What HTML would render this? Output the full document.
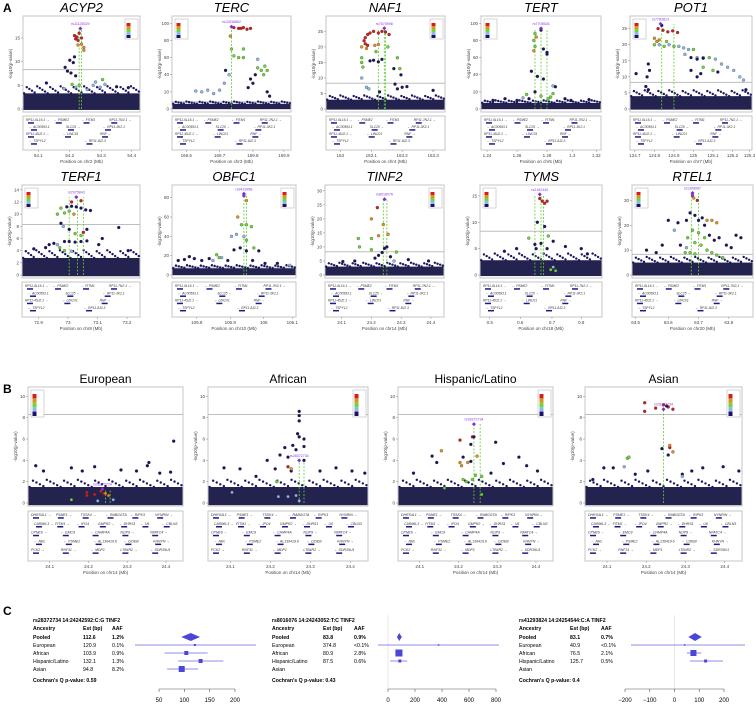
<!DOCTYPE html>
<html><head><meta charset="utf-8"><style>
html,body{margin:0;padding:0;background:#fff}
svg{display:block;font-family:"Liberation Sans",sans-serif}
</style></head><body>
<svg id="fig" width="756" height="706" viewBox="0 0 756 706" xmlns="http://www.w3.org/2000/svg">
<rect width="756" height="706" fill="#fff"/>
<text x="3" y="12" font-size="12" font-weight="bold">A</text>
<text x="3" y="393" font-size="12" font-weight="bold">B</text>
<text x="3" y="615" font-size="12" font-weight="bold">C</text>
</svg>
<script>
// ---------- locus data (xfrac, -log10 p, ld class 0..4) ----------
const acyp2Pts=[[0.44,15.5,4],[0.45,14.8,4],[0.46,15.2,4],[0.47,14.5,4],[0.48,16,4],[0.5,15,4],[0.47,13.5,3],[0.5,13.7,3],[0.52,13,3],[0.52,12.4,3],[0.44,11,0],[0.4,10.3,0],[0.43,9.8,0],[0.36,8.8,0],[0.38,8,0],[0.41,7.6,0],[0.45,7,0],[0.42,5.2,2],[0.48,5,2],[0.62,5.7,1],[0.6,5,1],[0.66,4.6,1],[0.68,6.2,2],[0.7,5.2,1],[0.35,4.3,1],[0.45,4.6,1],[0.2,5.5,0],[0.8,4.7,0],[0.9,4.5,0],[0.55,4.1,1]];
const tercPts=[[0.52,95,4],[0.56,94,4],[0.6,95,4],[0.63,93,4],[0.66,94,4],[0.58,94,4],[0.49,85,3],[0.5,70,2],[0.52,62,2],[0.56,60,2],[0.6,60,2],[0.6,70,2],[0.72,48,2],[0.75,45,2],[0.78,50,2],[0.8,45,2],[0.77,40,2],[0.72,58,1],[0.7,40,0],[0.66,35,0],[0.68,30,0],[0.64,25,0],[0.8,20,0],[0.82,15,0],[0.3,22,1],[0.25,20,1],[0.2,21,1],[0.35,18,1],[0.4,22,1],[0.44,30,1],[0.48,40,1],[0.45,45,0]];
const naf1Pts=[[0.32,22,4],[0.33,23,4],[0.35,24,4],[0.37,24.5,4],[0.4,25,4],[0.44,24.5,4],[0.47,25,4],[0.5,24.8,4],[0.53,24,4],[0.33,21,4],[0.35,20.5,4],[0.3,20,3],[0.34,19.5,3],[0.41,20.5,3],[0.44,20.8,3],[0.42,18.5,2],[0.52,20,2],[0.3,16.5,2],[0.3,15,2],[0.31,13.5,2],[0.6,16.5,2],[0.62,13,2],[0.37,15.5,0],[0.4,15.7,0],[0.44,15.2,0],[0.47,16,0],[0.63,11,0],[0.57,13,0],[0.3,10,1],[0.34,7,1],[0.36,6.5,1],[0.6,6.5,0],[0.64,7,0],[0.68,7.2,0],[0.58,8,0],[0.45,5.5,0],[0.9,6,0]];
const tertPts=[[0.45,88,2],[0.5,92,0],[0.46,84,3],[0.44,80,2],[0.45,73,2],[0.44,68,3],[0.52,70,0],[0.55,66,0],[0.55,64,0],[0.42,44,0],[0.47,38,0],[0.52,35,0],[0.6,27,1],[0.62,26,0],[0.38,17,2],[0.5,15,2],[0.6,18,2],[0.56,12,2],[0.58,14,2],[0.4,12,0],[0.3,10,0],[0.35,13,1],[0.2,12,0],[0.1,10,0],[0.7,12,0],[0.75,10,0],[0.9,11,0],[0.45,20,0]];
const pot1Pts=[[0.23,25,4],[0.27,24.5,4],[0.31,24,4],[0.35,24.3,4],[0.39,23.8,4],[0.26,26,0],[0.2,22,3],[0.22,21,3],[0.24,21.5,3],[0.2,20,2],[0.24,20,1],[0.28,19.5,2],[0.32,20,1],[0.36,19.5,2],[0.4,19.5,1],[0.44,19,1],[0.48,18.5,1],[0.52,18.5,2],[0.55,16,1],[0.6,16,1],[0.65,16,2],[0.7,15.5,1],[0.5,16,0],[0.55,15.5,0],[0.6,15.8,0],[0.75,14,1],[0.8,13,1],[0.85,12,1],[0.9,10,1],[0.93,9,1],[0.6,13,2],[0.68,12,2],[0.72,11.5,0],[0.5,12,0],[0.55,10,0],[0.15,14,0],[0.16,12,0],[0.14,10,0],[0.13,7,0],[0.15,6,0],[0.05,11,0],[0.95,6,0],[0.3,21,2],[0.45,17,1],[0.58,11,0]];
const terf1Pts=[[0.42,12,4],[0.5,12.2,4],[0.38,11.2,0],[0.42,11.3,0],[0.46,11.2,0],[0.5,11,0],[0.54,10.7,0],[0.58,10.6,0],[0.33,11,2],[0.36,10.2,2],[0.4,10.5,2],[0.44,10,3],[0.3,10,2],[0.33,8.5,0],[0.35,8,1],[0.4,7.5,0],[0.45,6.8,2],[0.5,6.5,2],[0.52,7,4],[0.55,7.5,0],[0.36,5.5,0],[0.4,5.5,0],[0.45,5.4,0],[0.5,5.5,0],[0.55,5.6,0],[0.3,5,1],[0.32,4.5,2],[0.36,4,2],[0.42,3.9,1],[0.27,5.2,0],[0.23,5,0],[0.65,5,0],[0.68,6,0],[0.82,7.8,0],[0.9,4,0],[0.1,4.3,0],[0.2,4.5,0]];
const obfc1Pts=[[0.58,82,5],[0.6,77,3],[0.53,60,3],[0.56,52,2],[0.6,52,2],[0.64,50,2],[0.58,40,1],[0.52,42,1],[0.48,40,1],[0.6,36,2],[0.66,28,2],[0.55,28,0],[0.6,25,0],[0.7,25,0],[0.5,26,0],[0.36,21,2],[0.38,18,2],[0.33,15,1],[0.4,18,1],[0.3,17,0],[0.24,15,0],[0.18,17,0],[0.14,19,0],[0.1,16,0],[0.05,15,0],[0.45,15,0],[0.65,15,0],[0.75,12,0],[0.85,12,0],[0.95,10,1]];
const tinf2Pts=[[0.44,24,4],[0.39,20,3],[0.49,18,3],[0.53,14.5,3],[0.45,14,3],[0.28,13,2],[0.39,13,2],[0.29,10,2],[0.39,9,2],[0.6,8.2,2],[0.5,9.5,0],[0.52,10,0],[0.45,7,0],[0.55,6.5,0],[0.42,6,0],[0.58,5,1],[0.25,5,0],[0.15,4.8,0],[0.7,5.5,0],[0.87,5,0],[0.48,8,0]];
const tymsPts=[[0.49,14.5,4],[0.51,14,4],[0.53,13.6,4],[0.55,14,4],[0.47,10,0],[0.53,9.2,0],[0.56,7.4,2],[0.4,7,2],[0.45,5.8,0],[0.46,5,0],[0.5,6,0],[0.55,5,0],[0.6,6.4,0],[0.7,5.4,0],[0.58,1,2],[0.6,1.5,1],[0.62,0.8,2],[0.3,5,0],[0.2,4.5,0],[0.83,5,0],[0.88,4,0]];
const rtel1Pts=[[0.5,32,5],[0.51,31,3],[0.54,30,4],[0.48,25,0],[0.52,24,0],[0.55,22,0],[0.58,23,0],[0.62,22,3],[0.66,22,3],[0.7,21,3],[0.6,20,0],[0.45,22,0],[0.38,21,0],[0.3,22,0],[0.35,18,1],[0.5,18,2],[0.55,17,2],[0.6,15,2],[0.46,15,2],[0.52,13,2],[0.57,12,2],[0.62,10,2],[0.66,9,2],[0.44,9,2],[0.48,9,2],[0.52,8.5,2],[0.7,8,2],[0.75,7,2],[0.64,16,0],[0.68,14,0],[0.72,15,0],[0.78,12,0],[0.82,11,0],[0.86,16,0],[0.9,15,0],[0.25,12,0],[0.2,9,0],[0.12,10,0],[0.4,12,0],[0.45,11,1]];
const eurPts=[[0.94,5.8,0],[0.78,3.8,0],[0.77,3.5,0],[0.05,3.5,0],[0.1,3,0],[0.28,3.3,0],[0.35,3,0],[0.43,3.4,0],[0.6,3.1,0],[0.7,3,0],[0.85,2.8,0],[0.92,2.9,0],[0.38,1,4],[0.38,0.7,4],[0.43,0.8,4],[0.47,1.1,4],[0.49,0.9,4],[0.5,0.9,3],[0.52,0.7,3],[0.28,0.3,2],[0.55,0.3,1],[0.45,0.2,1]];
const afrPts=[[0.57,8.6,0],[0.57,8.2,0],[0.57,7.7,0],[0.56,6.5,0],[0.57,6.2,0],[0.6,6,0],[0.53,5.4,0],[0.6,5.3,0],[0.55,5,0],[0.48,5.2,0],[0.45,4.5,0],[0.5,4.3,0],[0.6,4,0],[0.37,4,0],[0.42,3.2,0],[0.52,3,0],[0.5,3.4,4],[0.52,3.2,3],[0.3,2.5,0],[0.1,3.3,0],[0.2,3.2,0],[0.7,3,0],[0.8,3.3,0],[0.9,3,0],[0.98,2.8,0],[0.43,2,2],[0.44,0.6,1],[0.5,0.6,1],[0.55,0.7,1],[0.57,0.2,1],[0.15,1,1]];
const hisPts=[[0.48,6.2,4],[0.4,5.9,4],[0.49,6.2,0],[0.47,5.5,0],[0.63,5.7,0],[0.28,4.9,3],[0.51,4.4,3],[0.4,3.8,3],[0.45,3.8,3],[0.41,3.5,3],[0.42,4.3,0],[0.47,3.9,0],[0.22,4.4,0],[0.25,3.8,0],[0.68,3.7,0],[0.78,4.3,0],[0.83,3.5,0],[0.5,2.6,2],[0.42,2.2,2],[0.44,2,2],[0.48,2.2,2],[0.54,2.5,2],[0.3,1.4,2],[0.54,0.8,2],[0.1,2.8,0],[0.9,3,0],[0.6,2.8,0]];
const asnPts=[[0.38,9.4,4],[0.38,8.6,4],[0.45,8.9,4],[0.5,9.2,4],[0.53,9,4],[0.56,8.8,4],[0.52,9.1,0],[0.49,5.1,0],[0.53,4.5,0],[0.54,5.2,4],[0.54,5.4,3],[0.56,4.8,3],[0.27,4.2,2],[0.28,4.3,2],[0.25,3.4,1],[0.18,3.3,0],[0.12,3.3,0],[0.4,3,0],[0.32,2.7,0],[0.62,2.7,0],[0.68,3,0],[0.75,3.3,0],[0.88,3.4,0],[0.62,2.5,1],[0.98,3,0],[0.05,2.2,0]];

// ---------- forest data ----------
const forestAncestry=["Pooled","European","African","Hispanic/Latino","Asian"];
const f1Est=[112.6,120.9,103.9,132.1,94.8];
const f1Lo=[94,0,61,88,66];
const f1Hi=[131,245,146,177,127];
const f1Aaf=["1.2%","0.1%","0.9%","1.3%","8.2%"];
const f1Size=[0,2,4,4,6];
const f2Est=[83.8,374.8,80.9,87.5,null];
const f2Lo=[66,-80,70,15,null];
const f2Hi=[102,900,92,143,null];
const f2Aaf=["0.9%","<0.1%","2.8%","0.6%",""];
const f2Size=[0,1.5,7,3,0];
const f3Est=[83.1,40.9,76.5,125.7,null];
const f3Lo=[56,-180,50,63,null];
const f3Hi=[110,300,108,196,null];
const f3Aaf=["0.7%","<0.1%","2.1%","0.5%",""];
const f3Size=[0,1.5,6,3,0];
const f1Ticks=[50,100,150,200];
const f2Ticks=[0,200,400,600,800];
const f3Ticks=[-200,-100,0,100,200];

const NS="http://www.w3.org/2000/svg";
const svg=document.getElementById('fig');
const COL=["#1b1464","#8db8e8","#6fd63a","#e0921f","#d01f1f","#9b30e0"];
function el(tag,attrs,parent){const e=document.createElementNS(NS,tag);for(const k in attrs)e.setAttribute(k,attrs[k]);(parent||svg).appendChild(e);return e;}
function txt(x,y,s,size,parent,extra){const t=el('text',Object.assign({x:x,y:y,'font-size':size},extra||{}),parent);t.textContent=s;return t;}

const geneNamesB=[["DHRS4L1 →","PSME1 →","TSSK4 →","← RABGGTA","← RIPK3","NYNRIN →"],["CARMIL3 →","FITM1 →","← IPO4","GMPR2 →","← DHRS1","← U6","← CBLN3"],["CPNE6 →","← EMC9","← CHMP4A","NOP9 →","NFATC4 →"],["← NRL","← PSME2","← AL136419.6","← CIDEB","KHNYN →"],["PCK2 →","RNF31 →","← MDP1","LTB4R2 →","← SDR39U1"]];
const geneNamesA=[["RP11-6L16.1 →","← PSME2","← FITM1","RP11-7N2.1 →"],["← AC00593.1","SLC25 →","← RP11-3K2.1"],["RP11-45J2.1 →","← LINC01","RNF →"],["← TSPYL2","← RP11-8J2.3"]];

function locus(p){
  const g=el('g',{},svg);
  
  
  const x=f=>p.bx+f*p.bw;
  const y=v=>p.by+p.bh-3-v*(p.bh-6)/p.ymax;
  const t=txt(p.bx+p.bw/2,p.by-4,p.title,p.tsize,g,{'text-anchor':'middle','font-style':p.italic?'italic':'normal'});
  
  
  const box=el('rect',{x:p.bx,y:p.by,width:p.bw,height:p.bh,fill:'#fff',stroke:'#c4c4c4','stroke-width':1},g);
  
  
  if(8.3<p.ymax){const th=el('line',{x1:p.bx,x2:p.bx+p.bw,y1:y(8.3),y2:y(8.3),stroke:'#bdbdbd','stroke-width':1},g);
    }
  const band=el('rect',{x:p.bx+0.5,y:y(p.band),width:p.bw-1,height:y(-0.2)-y(p.band),fill:'#24224e'},g);
  
  for(let i=0;i<=44;i++){const f=i/44;const h=p.band*(1.0+0.45*((i*7)%9)/8);
    const c=el('circle',{cx:x(f*0.98+0.01),cy:y(h),r:1.2,fill:COL[0]},g);}
  (p.vl||[]).forEach(f=>{const l=el('line',{x1:x(f),x2:x(f),y1:y(0),y2:y(p.lead[1]),stroke:'#5fcf2f','stroke-width':0.8,'stroke-dasharray':'2,1.5'},g);
    });
  p.pts.forEach(q=>{const c=el('circle',{cx:x(q[0]),cy:y(q[1]),r:1.5,fill:COL[q[2]],stroke:'#222','stroke-width':0.25},g);
    });
  const lx=x(p.lead[0]),ly=y(p.lead[1]);
  const d=el('path',{d:`M${lx},${ly-2}L${lx+2},${ly}L${lx},${ly+2}L${lx-2},${ly}Z`,fill:'#7b2fd0'},g);
  
  const lt=txt(lx,ly-3.5,p.rs,3.6,g,{'text-anchor':'middle',fill:'#8a3be0'});
  
  const lgx=p.legLeft?p.bx+3:p.bx+p.bw-15, lgy=p.by+3;
  const lg=el('g',{},g);
  el('rect',{x:lgx,y:lgy,width:13,height:p.legH,fill:'#fff',stroke:'#999','stroke-width':0.4},lg);
  [4,3,2,1,0].forEach((c,i)=>el('rect',{x:lgx+1.5,y:lgy+4+i*(p.legH-5)/5,width:4,height:(p.legH-5)/5,fill:COL[c]},lg));
  p.yt.forEach(v=>{el('line',{x1:p.bx-2,x2:p.bx,y1:y(v),y2:y(v),stroke:'#888','stroke-width':0.5},g);
    txt(p.bx-3,y(v)+1.5,String(v),4.5,g,{'text-anchor':'end',fill:'#444'});});
  const yl=txt(0,0,'-log10(p-value)',4.5,g,{'text-anchor':'middle',fill:'#444',transform:`translate(${p.bx-11},${p.by+p.bh/2}) rotate(-90)`});
  
  const gb=el('rect',{x:p.bx,y:p.gy,width:p.bw,height:p.gh,fill:'#fff',stroke:'#c4c4c4','stroke-width':1},g);
  
  const names=p.genes;
  const rows=names.length;
  names.forEach((row,r)=>{row.forEach((n,i)=>{const gx=p.bx+3+i*(p.bw-6)/row.length+(r%2)*3;const gy=p.gy+5+r*(p.gh-6)/rows;
    const gt=txt(gx,gy,n,p.gfont,g,{'font-style':'italic',fill:'#333'});
    el('rect',{x:gx+2,y:gy+1.2,width:6,height:1.5,fill:'#1b1b8a'},g);});});
  p.xt.forEach((s,i)=>{const xx=x(p.xf[i]);el('line',{x1:xx,x2:xx,y1:p.gy+p.gh,y2:p.gy+p.gh+2,stroke:'#888','stroke-width':0.5},g);
    txt(xx,p.gy+p.gh+7,s,4.5,g,{'text-anchor':'middle',fill:'#444'});});
  const xl=txt(p.bx+p.bw/2,p.gy+p.gh+13,'Position on '+p.chr+' (Mb)',4.5,g,{'text-anchor':'middle',fill:'#444'});
  
}
const r1={by:16,bh:96,gy:116,gh:34,tsize:13,italic:true,legH:20,genes:geneNamesA,gfont:3.3};
const r2={by:185,bh:93,gy:282,gh:35,tsize:13,italic:true,legH:20,genes:geneNamesA,gfont:3.3};
const rb={by:387,bh:119,gy:511,gh:50,tsize:12,italic:false,legH:27,genes:geneNamesB,gfont:3.5,yt:[0,2,4,6,8,10],ymax:10.6,band:1.5,xt:["24.1","24.2","24.3","24.4"],xf:[0.14,0.39,0.64,0.89],chr:'chr14'};
const panels=[
 Object.assign({},r1,{id:'acyp2',title:'ACYP2',rs:'rs11125529',bx:23,bw:117,ymax:19,yt:[0,5,10,15],band:3.3,pts:acyp2Pts,lead:[0.49,17],vl:[0.48,0.5],legLeft:false,xt:["54.1","54.2","54.3","54.4"],xf:[0.13,0.4,0.67,0.93],chr:'chr2'}),
 Object.assign({},r1,{id:'terc',title:'TERC',rs:'rs12638862',bx:172,bw:119,ymax:105,yt:[0,20,40,60,80,100],band:6,pts:tercPts,lead:[0.5,96],vl:[0.5],legLeft:true,xt:["169.6","169.7","169.8","169.9"],xf:[0.12,0.4,0.68,0.94],chr:'chr3'}),
 Object.assign({},r1,{id:'naf1',title:'NAF1',rs:'rs7675998',bx:326,bw:119,ymax:29,yt:[0,5,10,15,20,25],band:3,pts:naf1Pts,lead:[0.49,26],vl:[0.44,0.49,0.5],legLeft:false,xt:["163","163.1","163.2","163.3"],xf:[0.12,0.38,0.64,0.9],chr:'chr4'}),
 Object.assign({},r1,{id:'tert',title:'TERT',rs:'rs7705526',bx:481,bw:120,ymax:105,yt:[0,20,40,60,80,100],band:7,pts:tertPts,lead:[0.5,94],vl:[0.45,0.5,0.55],legLeft:true,xt:["1.24","1.26","1.28","1.3","1.32"],xf:[0.05,0.3,0.55,0.76,0.96],chr:'chr5'}),
 Object.assign({},r1,{id:'pot1',title:'POT1',rs:'rs7783813',bx:630,bw:122,ymax:28,yt:[0,5,10,15,20,25],band:4,pts:pot1Pts,lead:[0.25,26.5],vl:[0.26,0.36],legLeft:true,xt:["124.7","124.8","124.9","125","125.1","125.2","125.3"],xf:[0.04,0.2,0.36,0.52,0.68,0.84,0.98],chr:'chr7'}),
 Object.assign({},r2,{id:'terf1',title:'TERF1',rs:'rs2975843',bx:22,bw:118,ymax:14.3,yt:[0,2,4,6,8,10,12,14],band:2.8,pts:terf1Pts,lead:[0.46,12.8],vl:[0.4,0.47,0.52],legLeft:true,xt:["72.9","73","73.1","73.2"],xf:[0.14,0.39,0.64,0.89],chr:'chr8'}),
 Object.assign({},r2,{id:'obfc1',title:'OBFC1',rs:'rs9419958',bx:172,bw:124,ymax:90,yt:[0,20,40,60,80],band:7,pts:obfc1Pts,lead:[0.58,84],vl:[0.58,0.6],legLeft:false,xt:["105.8","105.9","106","106.1"],xf:[0.2,0.47,0.74,0.97],chr:'chr10'}),
 Object.assign({},r2,{id:'tinf2',title:'TINF2',rs:'rs8016076',bx:325,bw:119,ymax:31,yt:[0,5,10,15,20,25,30],band:3,pts:tinf2Pts,lead:[0.5,27],vl:[0.49,0.52],legLeft:false,xt:["24.1","24.2","24.3","24.4"],xf:[0.14,0.39,0.64,0.89],chr:'chr14'}),
 Object.assign({},r2,{id:'tyms',title:'TYMS',rs:'rs2162440',bx:480,bw:122,ymax:16.5,yt:[0,5,10,15],band:2.8,pts:tymsPts,lead:[0.49,15.3],vl:[0.45,0.5,0.52],legLeft:true,xt:["0.5","0.6","0.7","0.8"],xf:[0.08,0.33,0.59,0.83],chr:'chr18'}),
 Object.assign({},r2,{id:'rtel1',title:'RTEL1',rs:'rs1308087',bx:632,bw:121,ymax:35,yt:[0,10,20,30],band:5,pts:rtel1Pts,lead:[0.5,33],vl:[0.49,0.55],legLeft:true,xt:["63.5","63.6","63.7","63.8"],xf:[0.03,0.3,0.55,0.8],chr:'chr20'}),
 Object.assign({},rb,{id:'european',title:'European',rs:'rs28372734',bx:28,bw:155,pts:eurPts,lead:[0.48,1.3],vl:[0.5,0.53],legLeft:true}),
 Object.assign({},rb,{id:'african',title:'African',rs:'rs28372734',bx:208,bw:160,pts:afrPts,lead:[0.57,4],vl:[0.57,0.6],legLeft:false}),
 Object.assign({},rb,{id:'hispanic',title:'Hispanic/Latino',rs:'rs28372734',bx:398,bw:155,pts:hisPts,lead:[0.49,7.4],vl:[0.49,0.53],legLeft:false}),
 Object.assign({},rb,{id:'asian',title:'Asian',rs:'rs28372734',bx:585,bw:157,pts:asnPts,lead:[0.5,8.8],vl:[0.5],legLeft:false})
];
panels.forEach(locus);

// ---------- forest plots ----------
function forest(o){
  const g=el('g',{},svg);
  
  
  const fx=v=>o.ax0+(v-o.t0)*(o.ax1-o.ax0)/(o.t1-o.t0);
  txt(o.tx,622,o.title,5.2,g,{'font-weight':'bold'});
  txt(o.tx,630,'Ancestry',5.2,g,{'font-weight':'bold'});
  txt(o.ex,630,'Est (bp)',5.2,g,{'font-weight':'bold'});
  txt(o.afx,630,'AAF',5.2,g,{'font-weight':'bold'});
  const rowY=i=>637+i*8;
  forestAncestry.forEach((a,i)=>{
    const b=i===0?{'font-weight':'bold'}:{};
    txt(o.tx,rowY(i)+2,a,5.2,g,b);
    if(o.est[i]!==null){txt(o.ex,rowY(i)+2,o.est[i].toFixed(1),5.2,g,b);txt(o.afx,rowY(i)+2,o.aaf[i],5.2,g,b);}
  });
  txt(o.tx,682,"Cochran's Q p-value: "+o.q,5.2,g,{'font-weight':'bold'});
  if(o.zero){const z=el('line',{x1:fx(0),x2:fx(0),y1:615,y2:690,stroke:'#ddd','stroke-width':0.6},g);}
  const clipId=o.id+'-clip';
  const cp=el('clipPath',{id:clipId},g);el('rect',{x:o.cx0,y:600,width:o.cx1-o.cx0,height:100},cp);
  const pg=el('g',{'clip-path':`url(#${clipId})`},g);
  o.est.forEach((v,i)=>{if(v===null)return;const cy=rowY(i);
    if(i===0){const d=el('path',{d:`M${fx(o.lo[0])},${cy}L${fx(v)},${cy-4}L${fx(o.hi[0])},${cy}L${fx(v)},${cy+4}Z`,fill:'#4b46d8'},pg);
      return;}
    const l=el('line',{x1:fx(o.lo[i]),x2:fx(o.hi[i]),y1:cy,y2:cy,stroke:'#6a66e0','stroke-width':0.8},pg);
    
    const s=o.size[i];const r=el('rect',{x:fx(v)-s/2,y:cy-s/2,width:s,height:s,fill:'#4b46d8'},pg);
    
  });
  const ax=el('line',{x1:fx(o.ticks[0]),x2:fx(o.ticks[o.ticks.length-1]),y1:689,y2:689,stroke:'#555','stroke-width':0.6},g);
  
  o.ticks.forEach(v=>{el('line',{x1:fx(v),x2:fx(v),y1:689,y2:692,stroke:'#555','stroke-width':0.6},g);
    txt(fx(v),702,String(v).replace('-','−'),6,g,{'text-anchor':'middle'});});
}
forest({id:'forest-rs28372734',title:'rs28372734 14:24242592:C:G TINF2',tx:33,ex:83,afx:112,est:f1Est,lo:f1Lo,hi:f1Hi,aaf:f1Aaf,size:f1Size,q:'0.59',ticks:f1Ticks,t0:50,t1:200,ax0:159,ax1:235,cx0:135,cx1:256,zero:false});
forest({id:'forest-rs8016076',title:'rs8016076 14:24243052:T:C TINF2',tx:272,ex:323,afx:354,est:f2Est,lo:f2Lo,hi:f2Hi,aaf:f2Aaf,size:f2Size,q:'0.43',ticks:f2Ticks,t0:0,t1:800,ax0:388,ax1:496,cx0:378,cx1:499,zero:true});
forest({id:'forest-rs41293824',title:'rs41293824 14:24254544:C:A TINF2',tx:519,ex:570,afx:601,est:f3Est,lo:f3Lo,hi:f3Hi,aaf:f3Aaf,size:f3Size,q:'0.4',ticks:f3Ticks,t0:-200,t1:200,ax0:625,ax1:724,cx0:631,cx1:745,zero:true});
</script>
</body></html>
